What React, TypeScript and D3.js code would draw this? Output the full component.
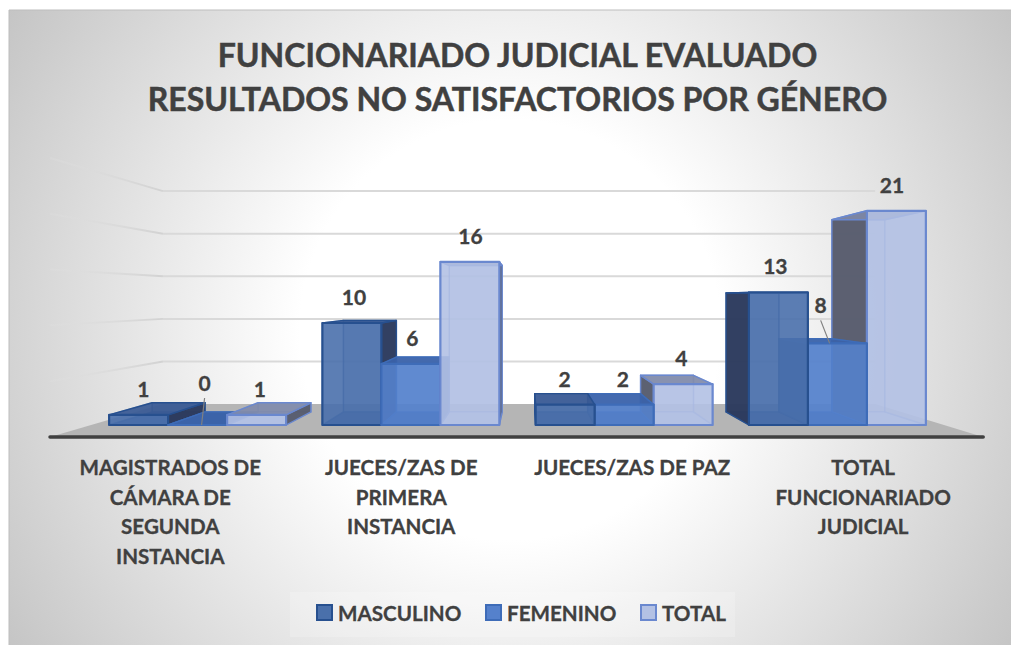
import * as d3 from "d3";

const width = 1013;
const height = 645;

const categories = [
  ["MAGISTRADOS DE", "CÁMARA DE", "SEGUNDA", "INSTANCIA"],
  ["JUECES/ZAS DE", "PRIMERA", "INSTANCIA"],
  ["JUECES/ZAS DE PAZ"],
  ["TOTAL", "FUNCIONARIADO", "JUDICIAL"],
];
const seriesNames = ["MASCULINO", "FEMENINO", "TOTAL"];
const masculino = [1, 10, 2, 13];
const femenino = [0, 6, 2, 8];
const total = [1, 16, 4, 21];
const gridTicks = [0, 5, 10, 15, 20, 25];
const titleLines = [
  "FUNCIONARIADO JUDICIAL EVALUADO",
  "RESULTADOS NO SATISFACTORIOS POR GÉNERO",
];

const seriesValues = [masculino, femenino, total];

// colores por serie: frente, borde, lados, tapa
const seriesStyle = [
  { front: "#4a70ab", stroke: "#27508f", side: "#2c3a5c", top: "#3a5a94", bottom: "#3a5a94" },
  { front: "#5581cc", stroke: "#3e6cb8", side: "#36609f", top: "#3a62a8", bottom: "#3a62a8" },
  { front: "#b3c1e4", stroke: "#6a88cf", side: "#555a6a", top: "#7f8aa8", bottom: "#b3c1e4" },
];

// perspectiva: todo se proyecta hacia un punto de fuga
const vanish = { x: 527, y: 298 };
const depthBack = 0.897;
const depthWall = 0.835;
const depthFloorFront = 1.094;
const depthCategoryLabel = 1.083;
const depthDataLabel = 0.988;

const x0 = d3
  .scaleBand<number>()
  .domain([0, 1, 2, 3])
  .range([91, 944])
  .paddingInner(0.17)
  .paddingOuter(0.085);
const x1 = d3.scaleBand<number>().domain([0, 1, 2]).range([0, x0.bandwidth()]);
const y = d3.scaleLinear().domain([0, 25]).range([425, 170]);

const project = (px: number, py: number, s: number): [number, number] => [
  vanish.x + s * (px - vanish.x),
  vanish.y + s * (py - vanish.y),
];
const poly = d3.line();
const face = (pts: [number, number][]) => poly(pts) + "Z";

type Bar = { cat: number; ser: number; value: number };

// a la izquierda del punto de fuga se pinta de izq. a der., a la derecha al revés
const bars: Bar[] = categories.flatMap((_, cat) => {
  const list = [0, 1, 2].map((ser) => ({ cat, ser, value: seriesValues[ser][cat] }));
  return cat < 2 ? list : list.reverse();
});

// etiquetas movidas a mano en el original, con línea guía: dx, dy, fin de la guía en x
const labelMoves: Record<string, [number, number, number]> = {
  "0-1": [3, -16, 0],
  "3-1": [-13, -12, -4],
};

function BarFaces({ cat, ser, value }: Bar) {
  const st = seriesStyle[ser];
  const left = x0(cat)! + x1(ser)!;
  const right = left + x1.bandwidth();
  const top = y(value);
  const base = y(0);
  const fl = (px: number, py: number) => project(px, py, 1);
  const bk = (px: number, py: number) => project(px, py, depthBack);
  // la cara lateral que mira al punto de fuga queda por dentro y es clara
  const leftOfVanish = (left + right) / 2 < vanish.x;
  const leftSide = leftOfVanish ? { fill: st.front, op: 0.35 } : { fill: st.side, op: 0.95 };
  const rightSide = leftOfVanish ? { fill: st.side, op: 0.95 } : { fill: st.front, op: 0.35 };
  const faces = [
    { d: face([bk(left, top), bk(right, top), bk(right, base), bk(left, base)]), fill: st.front, op: 0.55 },
    { d: face([bk(left, base), bk(right, base), fl(right, base), fl(left, base)]), fill: st.bottom, op: 0.85 },
    { d: face([fl(left, top), bk(left, top), bk(left, base), fl(left, base)]), ...leftSide },
    { d: face([fl(right, top), bk(right, top), bk(right, base), fl(right, base)]), ...rightSide },
    { d: face([fl(left, top), fl(right, top), bk(right, top), bk(left, top)]), fill: st.top, op: 0.9 },
    { d: face([fl(left, top), fl(right, top), fl(right, base), fl(left, base)]), fill: st.front, op: 0.85 },
  ];
  return (
    <g>
      {faces.map((f, i) => (
        <path
          key={i}
          d={f.d}
          fill={f.fill}
          fillOpacity={f.op}
          stroke={st.stroke}
          strokeOpacity={i === 0 || i === 1 ? 0.5 : f.op < 0.5 ? 0.5 : 1}
          strokeWidth={i === 5 ? 2.2 : 1.4}
          strokeLinejoin="round"
        />
      ))}
    </g>
  );
}

export default function App() {
  const wallLeft = project(x0.range()[0], y(0), depthWall)[0];
  const wallRight = project(x0.range()[1], y(0), depthWall)[0];
  const floor = face([
    project(x0.range()[0], y(0), depthWall),
    project(x0.range()[1], y(0), depthWall),
    project(x0.range()[1], y(0), depthFloorFront),
    project(x0.range()[0], y(0), depthFloorFront),
  ]);
  const axisLeft = project(x0.range()[0], y(0), depthFloorFront);
  const axisRight = project(x0.range()[1], y(0), depthFloorFront);

  return (
    <svg
      width={width}
      height={height}
      viewBox={`0 0 ${width} ${height}`}
      style={{ position: "absolute", left: 0, top: 0, fontFamily: "Lato, sans-serif" }}
    >
      <defs>
        <radialGradient id="bg" gradientUnits="userSpaceOnUse" cx={510} cy={330} r={600}>
          <stop offset="0.35" stopColor="#ffffff" />
          <stop offset="1" stopColor="#c4c4c4" />
        </radialGradient>
        <linearGradient id="fade" x1="0" x2="1" y1="0" y2="0">
          <stop offset="0" stopColor="#e0e0e0" stopOpacity={0.25} />
          <stop offset="1" stopColor="#d2d2d2" />
        </linearGradient>
      </defs>
      <rect x={0} y={0} width={width} height={height} fill="#ffffff" />
      <rect x={9} y={10} width={1002} height={635} fill="url(#bg)" />
      <path d="M9 645V10H1011" fill="none" stroke="#bdbdbd" strokeWidth={1} />

      {titleLines.map((t, i) => (
        <text
          key={t}
          x={517.5}
          y={67 + i * 44}
          textAnchor="middle"
          fontSize={32}
          fontWeight={700}
          fill="#404040"
          stroke="#404040"
          strokeWidth={0.5}
        >
          {t}
        </text>
      ))}

      {/* rejilla: pared del fondo y pared lateral */}
      {gridTicks.slice(1).map((t) => {
        const back = project(x0.range()[0], y(t), depthWall);
        const front = project(x0.range()[0], y(t), depthFloorFront);
        return (
          <g key={t} fill="none" strokeWidth={2}>
            <path d={poly([front, back])!} stroke="url(#fade)" />
            <line x1={wallLeft} x2={wallRight} y1={back[1]} y2={back[1]} stroke="#d9d9d9" />
          </g>
        );
      })}

      <path d={floor} fill="#b5b5b5" />
      <line
        x1={axisLeft[0]}
        x2={axisRight[0]}
        y1={axisLeft[1]}
        y2={axisRight[1]}
        stroke="#404040"
        strokeWidth={3.5}
        strokeLinecap="round"
      />

      {bars.map((b) => (
        <BarFaces key={`${b.cat}-${b.ser}`} {...b} />
      ))}

      {/* etiquetas de datos */}
      {bars.map(({ cat, ser, value }) => {
        const cx = project(x0(cat)! + x1(ser)! + x1.bandwidth() / 2, y(value), depthDataLabel)[0];
        const move = labelMoves[`${cat}-${ser}`];
        const lx = cx + (move ? move[0] : 0);
        const ly = y(value) - 18 + (move ? move[1] : 0);
        return (
          <g key={`${cat}-${ser}`}>
            {move && (
              <line x1={lx} y1={ly + 7} x2={cx + move[2]} y2={y(value)} stroke="#808080" strokeWidth={1.2} />
            )}
            <text
              x={lx}
              y={ly}
              textAnchor="middle"
              fontSize={21}
              fontWeight={700}
              fill="#404040"
              stroke="#404040"
              strokeWidth={0.3}
            >
              {value}
            </text>
          </g>
        );
      })}

      {/* categorías */}
      {categories.map((lines, cat) => {
        const lx = project(x0(cat)! + x0.bandwidth() / 2, y(0), depthCategoryLabel)[0];
        return (
          <text
            key={cat}
            textAnchor="middle"
            fontSize={20.6}
            fontWeight={700}
            fill="#404040"
            stroke="#404040"
            strokeWidth={0.3}
          >
            {lines.map((l, i) => (
              <tspan key={l} x={lx} y={475 + i * 29.5}>
                {l}
              </tspan>
            ))}
          </text>
        );
      })}

      {/* leyenda */}
      <rect x={290} y={592} width={445} height={45} fill="#ffffff" fillOpacity={0.2} />
      {seriesNames.map((name, i) => {
        const lx = [317, 486, 641][i];
        return (
          <g key={name}>
            <rect
              x={lx}
              y={605}
              width={15}
              height={15}
              fill={seriesStyle[i].front}
              stroke={seriesStyle[i].stroke}
              strokeWidth={2}
            />
            <text x={lx + 21} y={621} fontSize={20.6} fontWeight={700} fill="#404040" stroke="#404040" strokeWidth={0.3}>
              {name}
            </text>
          </g>
        );
      })}
    </svg>
  );
}
